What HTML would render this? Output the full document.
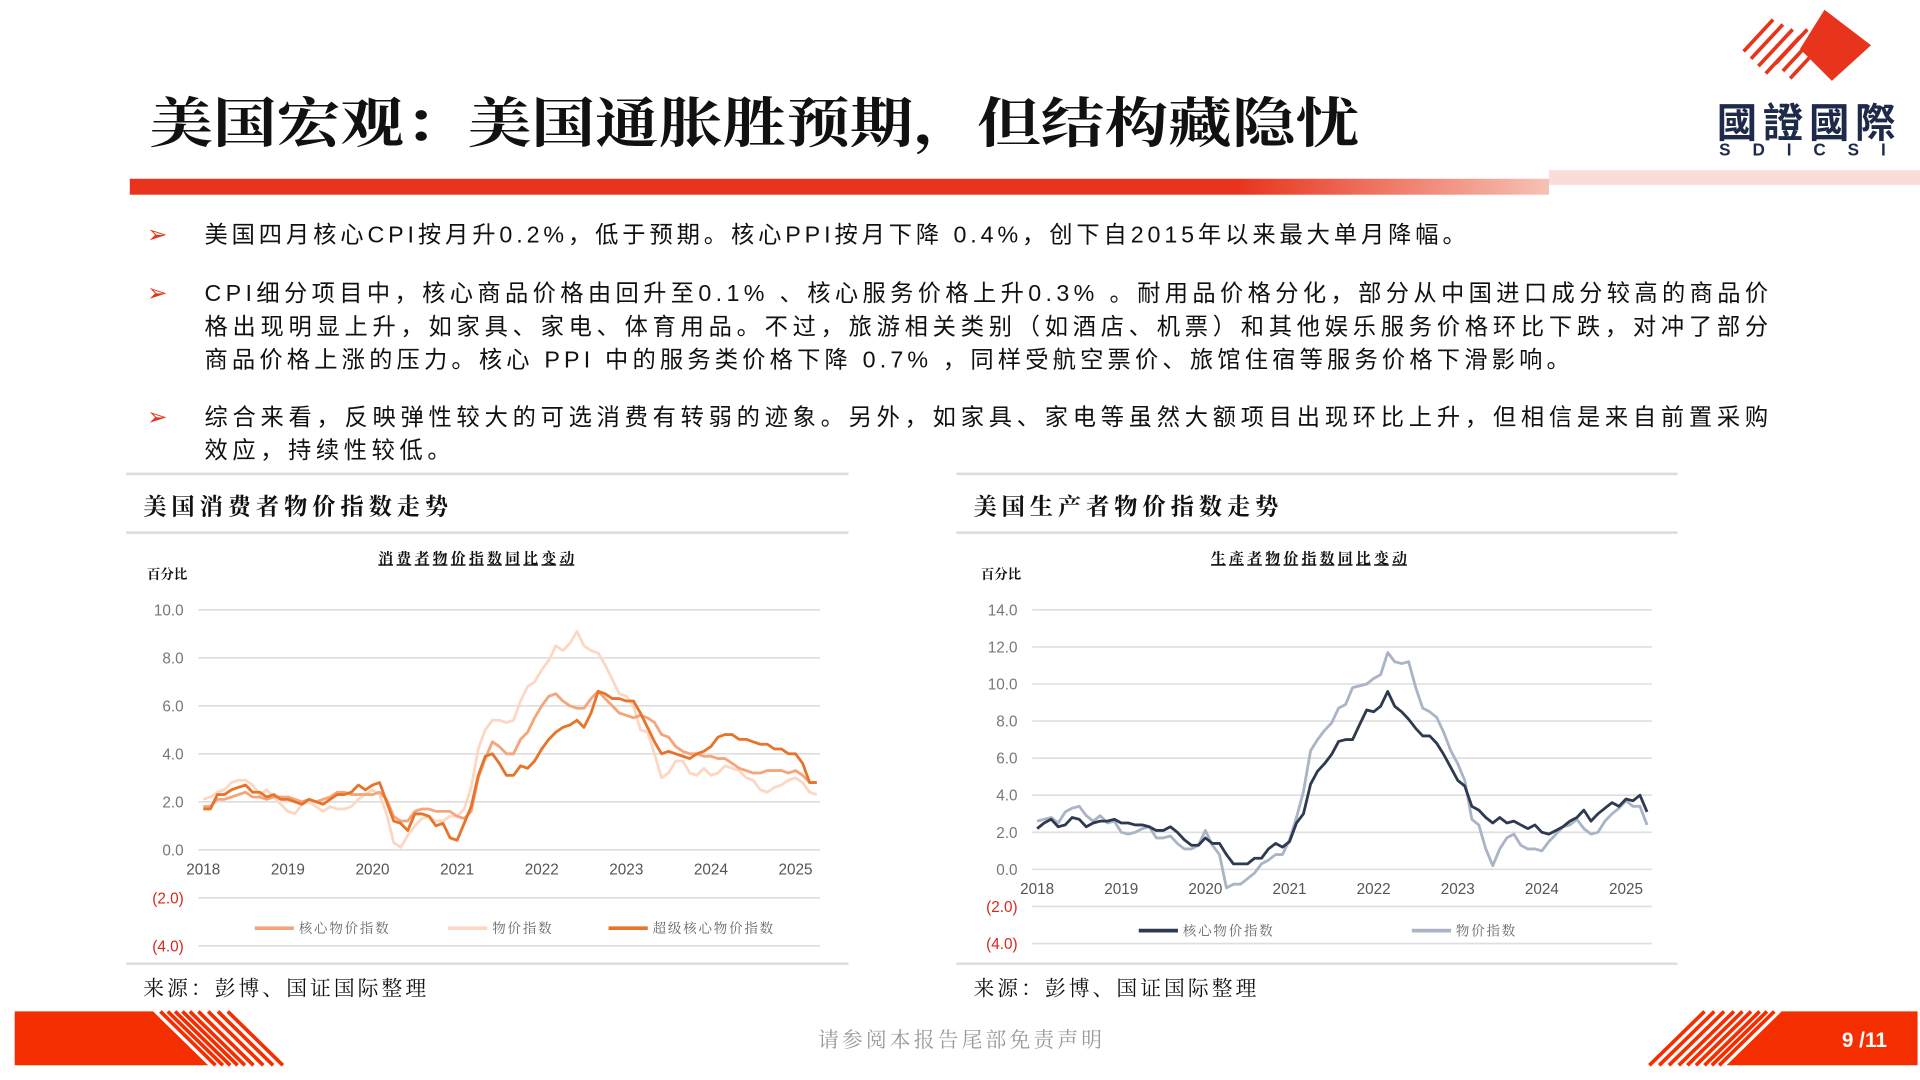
<!DOCTYPE html>
<html><head><meta charset="utf-8"><style>
html,body{margin:0;padding:0;background:#fff;}
svg{display:block;font-family:"Liberation Sans","Noto Sans CJK SC",sans-serif;}
.serif{font-family:"Liberation Serif","Noto Serif CJK SC",serif;}
.cjk{font-family:"Noto Serif CJK SC",serif;}
</style></head><body>
<svg id="page" width="1920" height="1080" viewBox="0 0 1568 882" xmlns="http://www.w3.org/2000/svg">
<defs>
<linearGradient id="redbar" x1="0" x2="1" y1="0" y2="0">
<stop offset="0" stop-color="#e8341c"/><stop offset="0.78" stop-color="#e8341c"/><stop offset="1" stop-color="#f6c2b6"/></linearGradient>
</defs>
<text x="122" y="116" font-size="44" font-weight="bold" class="cjk" fill="#111" textLength="988" lengthAdjust="spacingAndGlyphs">美国宏观：美国通胀胜预期，但结构藏隐忧</text>
<rect x="106" y="146" width="1159" height="13" fill="url(#redbar)"/>
<rect x="1265" y="139" width="303" height="12" fill="#fbdcd6"/>
<g>
<g stroke="#e8341c" stroke-width="3">
<line x1="1424" y1="42" x2="1448" y2="16"/><line x1="1430" y1="48" x2="1456" y2="20"/><line x1="1436" y1="54" x2="1464" y2="24"/><line x1="1442" y1="60" x2="1470" y2="30"/>
<line x1="1450" y1="52" x2="1476" y2="24"/><line x1="1456" y1="58" x2="1482" y2="30"/><line x1="1462" y1="64" x2="1488" y2="36"/>
</g>
<polygon points="1490,8 1528,37 1496,66 1470,40" fill="#e8341c"/>
<text x="1402" y="112" font-size="33" font-weight="bold" fill="#1e2a4a" font-family="Noto Sans CJK TC,sans-serif" textLength="146">國證國際</text>
<text x="1404" y="127" font-size="14" font-weight="bold" fill="#1e2a4a" textLength="144" letter-spacing="8">SDICSI</text>
</g>
<g font-size="19" fill="#111">
<text x="120" y="198" fill="#e8341c" font-size="20">➢</text>
<text x="167" y="198" textLength="1030">美国四月核心CPI按月升0.2%，低于预期。核心PPI按月下降 0.4%，创下自2015年以来最大单月降幅。</text>
<text x="120" y="246" fill="#e8341c" font-size="20">➢</text>
<text x="167" y="246" textLength="1277">CPI细分项目中，核心商品价格由回升至0.1% 、核心服务价格上升0.3% 。耐用品价格分化，部分从中国进口成分较高的商品价</text>
<text x="167" y="273" textLength="1277">格出现明显上升，如家具、家电、体育用品。不过，旅游相关类别（如酒店、机票）和其他娱乐服务价格环比下跌，对冲了部分</text>
<text x="167" y="300" textLength="1115">商品价格上涨的压力。核心 PPI 中的服务类价格下降 0.7% ，同样受航空票价、旅馆住宿等服务价格下滑影响。</text>
<text x="120" y="347" fill="#e8341c" font-size="20">➢</text>
<text x="167" y="347" textLength="1277">综合来看，反映弹性较大的可选消费有转弱的迹象。另外，如家具、家电等虽然大额项目出现环比上升，但相信是来自前置采购</text>
<text x="167" y="374" textLength="201">效应，持续性较低。</text>
</g>
<g stroke="#dcdcdc" stroke-width="2">
<line x1="103" y1="387" x2="693" y2="387"/><line x1="103" y1="435" x2="693" y2="435"/><line x1="103" y1="787" x2="693" y2="787"/>
<line x1="781" y1="387" x2="1370" y2="387"/><line x1="781" y1="435" x2="1370" y2="435"/><line x1="781" y1="787" x2="1370" y2="787"/>
</g>
<text x="117" y="420" font-size="19" font-weight="bold" class="cjk" fill="#111" textLength="249">美国消费者物价指数走势</text>
<text x="795" y="420" font-size="19" font-weight="bold" class="cjk" fill="#111" textLength="249">美国生产者物价指数走势</text>
<text x="117" y="813" font-size="17" class="cjk" fill="#111" textLength="231">来源：彭博、国证国际整理</text>
<text x="795" y="813" font-size="17" class="cjk" fill="#111" textLength="231">来源：彭博、国证国际整理</text>
<g id="chart1"></g>
<g id="chart2"></g>
<g>
<polygon points="12,826 125,826 170,870 12,870" fill="#f52e00"/>
<g stroke="#f52e00" stroke-width="3">
<line x1="131" y1="826" x2="176" y2="870"/><line x1="137" y1="826" x2="182" y2="870"/><line x1="143" y1="826" x2="188" y2="870"/><line x1="149" y1="826" x2="194" y2="870"/><line x1="155" y1="826" x2="200" y2="870"/><line x1="162" y1="826" x2="207" y2="870"/><line x1="170" y1="826" x2="215" y2="870"/><line x1="178" y1="826" x2="223" y2="870"/><line x1="186" y1="826" x2="231" y2="870"/>
</g>
<polygon points="1455,826 1566,826 1566,870 1410,870" fill="#f52e00"/>
<g stroke="#f52e00" stroke-width="3">
<line x1="1449" y1="826" x2="1404" y2="870"/><line x1="1443" y1="826" x2="1398" y2="870"/><line x1="1437" y1="826" x2="1392" y2="870"/><line x1="1430" y1="826" x2="1385" y2="870"/><line x1="1423" y1="826" x2="1378" y2="870"/><line x1="1416" y1="826" x2="1371" y2="870"/><line x1="1408" y1="826" x2="1363" y2="870"/><line x1="1400" y1="826" x2="1355" y2="870"/><line x1="1392" y1="826" x2="1347" y2="870"/>
</g>
<text x="668" y="855" font-size="17" fill="#999" class="cjk" textLength="232">请参阅本报告尾部免责声明</text>
<text x="1541" y="855" font-size="17" font-weight="bold" fill="#fff" text-anchor="end">9 /11</text>
</g>
</svg>
<script>
const years = ["2018","2019","2020","2021","2022","2023","2024","2025"];
const cpiTicks = [10,8,6,4,2,0,-2,-4];
const ppiTicks = [14,12,10,8,6,4,2,0,-2,-4];
const cpiHeadline = [2.1,2.2,2.4,2.5,2.8,2.9,2.9,2.7,2.3,2.5,2.2,1.9, 1.6,1.5,1.9,2.0,1.8,1.6,1.8,1.7,1.7,1.8,2.1,2.3, 2.5,2.3,1.5,0.3,0.1,0.6,1.0,1.3,1.4,1.2,1.2,1.4, 1.4,1.7,2.6,4.2,5.0,5.4,5.4,5.3,5.4,6.2,6.8,7.0, 7.5,7.9,8.5,8.3,8.6,9.1,8.5,8.3,8.2,7.7,7.1,6.5, 6.4,6.0,5.0,4.9,4.0,3.0,3.2,3.7,3.7,3.2,3.1,3.4, 3.1,3.2,3.5,3.4,3.3,3.0,2.9,2.5,2.4,2.6,2.7,2.9, 3.0,2.8,2.4,2.3];
const cpiCore = [1.8,1.8,2.1,2.1,2.2,2.3,2.4,2.2,2.2,2.1,2.2,2.2, 2.2,2.1,2.0,2.1,2.0,2.1,2.2,2.4,2.4,2.3,2.3,2.3, 2.3,2.4,2.1,1.4,1.2,1.2,1.6,1.7,1.7,1.6,1.6,1.6, 1.4,1.3,1.6,3.0,3.8,4.5,4.3,4.0,4.0,4.6,4.9,5.5, 6.0,6.4,6.5,6.2,6.0,5.9,5.9,6.3,6.6,6.3,6.0,5.7, 5.6,5.5,5.6,5.5,5.3,4.8,4.7,4.3,4.1,4.0,4.0,3.9, 3.9,3.8,3.8,3.6,3.4,3.3,3.2,3.2,3.3,3.3,3.3,3.2, 3.3,3.1,2.8,2.8];
const cpiSupercore = [1.7,1.7,2.3,2.3,2.5,2.6,2.7,2.4,2.4,2.2,2.3,2.1, 2.1,2.0,1.9,2.1,2.0,1.9,2.1,2.3,2.3,2.4,2.7,2.5, 2.7,2.8,2.0,1.2,1.1,0.8,1.5,1.5,1.4,1.0,1.1,0.5, 0.4,1.1,1.8,3.1,3.9,4.0,3.6,3.1,3.1,3.5,3.4,3.7, 4.2,4.6,4.9,5.1,5.2,5.4,5.1,5.7,6.6,6.5,6.3,6.3, 6.2,6.2,5.7,5.1,4.5,4.0,4.1,4.0,3.9,3.8,4.0,4.1, 4.3,4.7,4.8,4.8,4.6,4.6,4.5,4.4,4.4,4.2,4.2,4.0, 4.0,3.6,2.8,2.8];
const ppiCore = [2.2,2.5,2.7,2.3,2.4,2.8,2.7,2.3,2.5,2.6,2.6,2.7, 2.5,2.5,2.4,2.4,2.3,2.1,2.1,2.3,2.0,1.6,1.3,1.3, 1.7,1.4,1.4,0.8,0.3,0.3,0.3,0.6,0.6,1.1,1.4,1.2, 1.5,2.5,3.0,4.6,5.3,5.7,6.2,6.9,7.0,7.0,7.8,8.6, 8.5,8.8,9.6,8.8,8.5,8.1,7.6,7.2,7.2,6.8,6.2,5.5, 4.8,4.5,3.4,3.2,2.8,2.5,2.8,2.5,2.6,2.4,2.2,2.4, 2.0,1.9,2.1,2.3,2.6,2.8,3.2,2.6,3.0,3.3,3.6,3.4, 3.8,3.7,4.0,3.1];
const ppiHeadline = [2.6,2.7,2.8,2.5,3.1,3.3,3.4,2.9,2.6,2.9,2.5,2.6, 2.0,1.9,2.0,2.2,2.3,1.7,1.7,1.8,1.4,1.1,1.1,1.3, 2.1,1.3,0.8,-1.0,-0.8,-0.8,-0.5,-0.2,0.3,0.5,0.8,0.8, 1.6,2.8,4.2,6.4,7.0,7.5,7.9,8.7,8.9,9.8,9.9,10.0, 10.3,10.5,11.7,11.2,11.1,11.2,9.8,8.7,8.5,8.2,7.4,6.4, 5.7,4.8,2.7,2.4,1.1,0.2,1.1,1.7,1.9,1.3,1.1,1.1, 1.0,1.5,1.9,2.3,2.4,2.7,2.2,1.9,2.0,2.6,3.0,3.3, 3.7,3.4,3.4,2.4];

const NS="http://www.w3.org/2000/svg";
function mk(parent, tag, attrs){const e=document.createElementNS(NS,tag);for(const k in attrs)e.setAttribute(k,attrs[k]);parent.appendChild(e);return e;}

function drawChart(g, cfg){
  const yScale = v => cfg.y0 - v*cfg.ppu;
  const xScale = i => cfg.x2018 + (i/12)*cfg.ppy;
  const t = mk(g,'text',{x:cfg.titleX,y:460,'font-size':12,'font-weight':'bold','text-anchor':'middle',fill:'#111','text-decoration':'underline','font-family':'Noto Serif CJK SC,serif',textLength:160});
  t.textContent = cfg.title;
  
  
  const u = mk(g,'text',{x:cfg.left-42,y:473,'font-size':11,'font-weight':'bold',fill:'#111','font-family':'Noto Serif CJK SC,serif'});
  u.textContent='百分比';
  
  
  cfg.ticks.forEach(v=>{
    const y=yScale(v);
    const gl=mk(g,'line',{x1:cfg.left,x2:cfg.right,y1:y,y2:y,stroke:'#dedede','stroke-width':1.3});
    
    
    const lb=mk(g,'text',{x:cfg.left-12,y:y+4.5,'font-size':12.5,'text-anchor':'end',fill:v<0?'#d9251c':'#777'});
    lb.textContent = v<0?'('+Math.abs(v).toFixed(1)+')':v.toFixed(1);
    
    
  });
  years.forEach((yr,i)=>{
    const lb=mk(g,'text',{x:xScale(i*12),y:cfg.xLabelY,'font-size':12.5,'text-anchor':'middle',fill:'#555'});
    lb.textContent=yr;
    
    
  });
  cfg.series.forEach(s=>{
    const d=s.data.map((v,i)=>(i?'L':'M')+xScale(i).toFixed(1)+','+yScale(v).toFixed(1)).join(' ');
    const p=mk(g,'path',{d:d,fill:'none',stroke:s.color,'stroke-width':2.3,'stroke-linejoin':'round'});
    
    
    const ll=mk(g,'line',{x1:s.lx,x2:s.lx+32,y1:cfg.legendY,y2:cfg.legendY,stroke:s.color,'stroke-width':3});
    
    
    const lt=mk(g,'text',{x:s.lx+36,y:cfg.legendY+4,'font-size':11,fill:'#666','font-family':'Noto Serif CJK SC,serif','letter-spacing':1.5});
    lt.textContent=s.label;
    
    
  });
}
drawChart(document.getElementById('chart1'),{
  title:'消费者物价指数同比变动', titleX:389, left:162, right:670, y0:694, ppu:19.6, x2018:166, ppy:69.1,
  ticks:cpiTicks, xLabelY:714, legendY:758,
  series:[
    {name:'cpi-headline-line',data:cpiHeadline,color:'#fbd8c3',label:'物价指数',lx:366},
    {name:'cpi-core-line',data:cpiCore,color:'#f4a57a',label:'核心物价指数',lx:208},
    {name:'cpi-supercore-line',data:cpiSupercore,color:'#e8732a',label:'超级核心物价指数',lx:497}
  ]
});
drawChart(document.getElementById('chart2'),{
  title:'生產者物价指数同比变动', titleX:1069, left:843, right:1349, y0:710, ppu:15.14, x2018:847, ppy:68.7,
  ticks:ppiTicks, xLabelY:730, legendY:760,
  series:[
    {name:'ppi-headline-line',data:ppiHeadline,color:'#a9b4c4',label:'物价指数',lx:1153},
    {name:'ppi-core-line',data:ppiCore,color:'#2e3a4f',label:'核心物价指数',lx:930}
  ]
});
</script>
</body></html>
